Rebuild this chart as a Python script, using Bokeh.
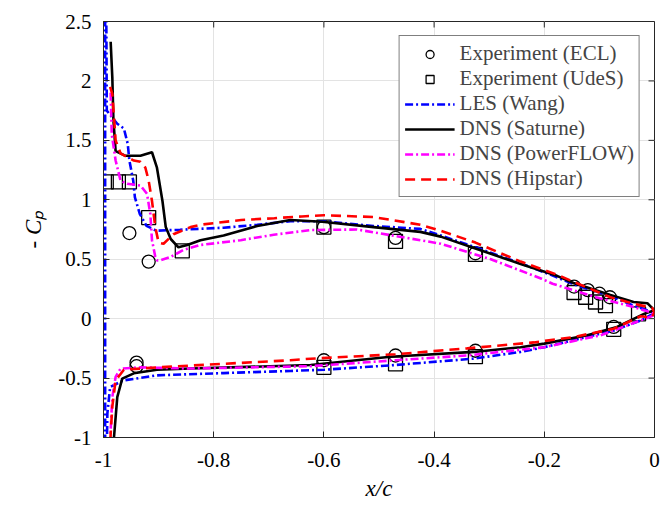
import math
from bokeh.plotting import figure
from bokeh.models import Range1d, FixedTicker, Legend, LegendItem
from bokeh.embed import file_html
from bokeh.resources import INLINE

# ---------------- data ----------------
x_ticks = [-1.0, -0.8, -0.6, -0.4, -0.2, 0.0]
x_tick_labels = ["-1", "-0.8", "-0.6", "-0.4", "-0.2", "0"]
y_ticks = [-1.0, -0.5, 0.0, 0.5, 1.0, 1.5, 2.0, 2.5]
y_tick_labels = ["-1", "-0.5", "0", "0.5", "1", "1.5", "2", "2.5"]

ecl_x = [-0.953, -0.918, -0.60, -0.47, -0.325, -0.146, -0.121, -0.100, -0.081,
         -0.94, -0.94, -0.60, -0.47, -0.325, -0.074]
ecl_y = [0.72, 0.48, 0.77, 0.68, 0.55, 0.27, 0.24, 0.21, 0.18,
         -0.37, -0.40, -0.35, -0.31, -0.27, -0.07]

udes_x = [-0.995, -0.973, -0.953, -0.918, -0.857, -0.60, -0.47, -0.325, -0.146,
          -0.125, -0.107, -0.089, -0.029, -0.60, -0.47, -0.325, -0.074]
udes_y = [1.15, 1.15, 1.15, 0.85, 0.57, 0.77, 0.65, 0.54, 0.22,
          0.18, 0.14, 0.11, 0.04, -0.41, -0.38, -0.32, -0.09]

les_x = [-0.995, -0.994, -0.975, -0.963, -0.956, -0.953, -0.946, -0.943, -0.934, -0.922,
         -0.904, -0.861, -0.782, -0.721, -0.661, -0.603, -0.510, -0.425, -0.388, -0.325,
         -0.243, -0.189, -0.147, -0.080, -0.038, -0.004, 0.0,
         -0.007, -0.025, -0.074, -0.200, -0.243, -0.329, -0.479, -0.600, -0.661, -0.782,
         -0.903, -0.964, -0.988, -0.993, -0.994, -0.997, -0.997]
les_y = [2.6, 1.75, 1.64, 1.60, 1.47, 1.33, 1.16, 1.02, 0.88, 0.78,
         0.74, 0.748, 0.765, 0.79, 0.82, 0.82, 0.78, 0.755, 0.70, 0.60,
         0.465, 0.37, 0.29, 0.19, 0.11, 0.055, 0.04,
         0.03, -0.015, -0.10, -0.24, -0.28, -0.337, -0.393, -0.43, -0.44, -0.458,
         -0.477, -0.52, -0.575, -0.80, -1.1, -1.1, 2.6]

sat_x = [-0.987, -0.984, -0.982, -0.978, -0.960, -0.933, -0.912, -0.903, -0.893, -0.887,
         -0.878, -0.864, -0.848, -0.824, -0.782, -0.721, -0.661, -0.603, -0.510, -0.425,
         -0.388, -0.325, -0.243, -0.177, -0.147, -0.080, -0.038, -0.013, 0.0,
         -0.019, -0.068, -0.122, -0.200, -0.243, -0.328, -0.479, -0.624, -0.842, -0.903,
         -0.945, -0.966, -0.975, -0.978, -0.981, -0.982]
sat_y = [2.33, 2.03, 1.67, 1.41, 1.37, 1.37, 1.40, 1.27, 0.99, 0.77,
         0.67, 0.60, 0.62, 0.66, 0.70, 0.78, 0.83, 0.815, 0.77, 0.73,
         0.69, 0.59, 0.46, 0.36, 0.30, 0.20, 0.14, 0.13, 0.07,
         0.04, -0.07, -0.14, -0.21, -0.24, -0.28, -0.32, -0.39, -0.42, -0.43,
         -0.46, -0.505, -0.66, -0.83, -1.0, -1.07]

pf_x = [-0.987, -0.985, -0.978, -0.969, -0.957, -0.933, -0.921, -0.915, -0.912, -0.906,
        -0.903, -0.897, -0.878, -0.854, -0.824, -0.751, -0.691, -0.624, -0.540, -0.425,
        -0.388, -0.297, -0.205, -0.185, -0.106, -0.038, -0.007, 0.0,
        -0.025, -0.098, -0.200, -0.340, -0.470, -0.624, -0.842, -0.933, -0.969, -0.978,
        -0.984, -0.987, -0.988]
pf_y = [1.9, 1.55, 1.33, 1.16, 1.135, 1.12, 1.05, 0.88, 0.66, 0.52,
        0.49, 0.49, 0.52, 0.58, 0.62, 0.66, 0.706, 0.745, 0.75, 0.66,
        0.63, 0.50, 0.336, 0.294, 0.18, 0.097, 0.055, 0.03,
        -0.015, -0.14, -0.24, -0.31, -0.35, -0.40, -0.42, -0.41, -0.42, -0.49,
        -0.66, -0.94, -1.1]

hip_x = [-0.988, -0.984, -0.981, -0.978, -0.969, -0.945, -0.933, -0.924, -0.918, -0.912,
         -0.906, -0.900, -0.891, -0.873, -0.842, -0.824, -0.750, -0.690, -0.640, -0.600,
         -0.510, -0.425, -0.388, -0.325, -0.243, -0.177, -0.147, -0.080, -0.038, -0.013,
         -0.004, 0.0,
         -0.006, -0.025, -0.074, -0.147, -0.219, -0.340, -0.470, -0.624, -0.661, -0.782,
         -0.903, -0.963, -0.978, -0.984, -0.987, -0.988]
hip_y = [1.95, 1.89, 1.70, 1.50, 1.39, 1.33, 1.32, 1.27, 1.16, 0.99,
         0.77, 0.64, 0.63, 0.71, 0.77, 0.79, 0.83, 0.845, 0.86, 0.87,
         0.855, 0.79, 0.74, 0.64, 0.48, 0.37, 0.31, 0.18, 0.126, 0.10,
         0.09, 0.05,
         0.01, 0.02, -0.085, -0.155, -0.20, -0.25, -0.30, -0.337, -0.35, -0.38,
         -0.41, -0.43, -0.52, -0.74, -0.97, -1.1]

legend_labels = ["Experiment (ECL)", "Experiment (UdeS)", "LES (Wang)",
                 "DNS (Saturne)", "DNS (PowerFLOW)", "DNS (Hipstar)"]

# ---------------- figure ----------------
FONT = "Liberation Serif"
AX = "#262626"

x_lo, x_hi = x_ticks[0], x_ticks[-1]
y_lo, y_hi = y_ticks[0], y_ticks[-1]

p = figure(width=671, height=509, x_range=Range1d(x_lo, x_hi), y_range=Range1d(y_lo, y_hi),
           output_backend="svg", toolbar_location=None,
           min_border_left=103, min_border_right=17, min_border_top=21, min_border_bottom=72)
p.outline_line_color = AX
p.background_fill_color = "white"

xt = FixedTicker(ticks=x_ticks)
yt = FixedTicker(ticks=y_ticks)

for ax, ticker, labels in ((p.xaxis[0], xt, x_tick_labels), (p.yaxis[0], yt, y_tick_labels)):
    ax.ticker = ticker
    ax.axis_line_color = AX
    ax.major_tick_line_color = AX
    ax.major_tick_in = 6
    ax.major_tick_out = 0
    ax.minor_tick_line_color = None
    ax.major_label_text_font = FONT
    ax.major_label_text_color = "black"
    ax.major_label_text_font_size = "21px"
    ax.major_label_overrides = {t: l for t, l in zip(ticker.ticks, labels)}
    ax.axis_label_text_font = FONT
    ax.axis_label_text_font_style = "italic"
    ax.axis_label_text_font_size = "23px"
    ax.axis_label_text_color = "black"

p.xaxis[0].major_label_standoff = 15
p.yaxis[0].major_label_standoff = 12
p.xaxis[0].axis_label = "x/c"
p.xaxis[0].axis_label_standoff = 6
p.yaxis[0].axis_label = "- C\u209a"
p.yaxis[0].axis_label_standoff = 9

# inward ticks on the right and top edges
p.ray(x=[x_hi] * len(y_ticks), y=y_ticks, length=6, length_units="screen",
      angle=math.pi, line_color=AX, line_width=1)
p.ray(x=x_ticks, y=[y_hi] * len(x_ticks), length=6, length_units="screen",
      angle=-math.pi / 2, line_color=AX, line_width=1)

p.xgrid.ticker = xt
p.ygrid.ticker = yt
p.xgrid.grid_line_color = "#e3e3e3"
p.ygrid.grid_line_color = "#e3e3e3"

# ---------------- glyphs ----------------
r_ecl = p.scatter(ecl_x, ecl_y, marker="circle", size=13, fill_color=None,
                  line_color="black", line_width=1.3)
r_udes = p.scatter(udes_x, udes_y, marker="square", size=14, fill_color=None,
                   line_color="black", line_width=1.3)
r_les = p.line(les_x, les_y, line_color="#0000ff", line_width=2.6, line_dash="8 3 2 3")
r_sat = p.line(sat_x, sat_y, line_color="black", line_width=2.6)
r_pf = p.line(pf_x, pf_y, line_color="#ff00ff", line_width=2.6, line_dash="8 3 2 3")
r_hip = p.line(hip_x, hip_y, line_color="#ff0000", line_width=2.6, line_dash="10 6")

legend = Legend(items=[LegendItem(label=l, renderers=[r]) for l, r in
                       zip(legend_labels, [r_ecl, r_udes, r_les, r_sat, r_pf, r_hip])],
                location="top_right", margin=14, padding=5, spacing=0,
                glyph_width=50, glyph_height=20, label_height=20, label_standoff=5,
                label_text_font=FONT, label_text_font_size="21px",
                border_line_color="black", border_line_width=1,
                background_fill_color="white", background_fill_alpha=1.0)
p.add_layout(legend)

open("out.html", "w").write(file_html(p, INLINE))
